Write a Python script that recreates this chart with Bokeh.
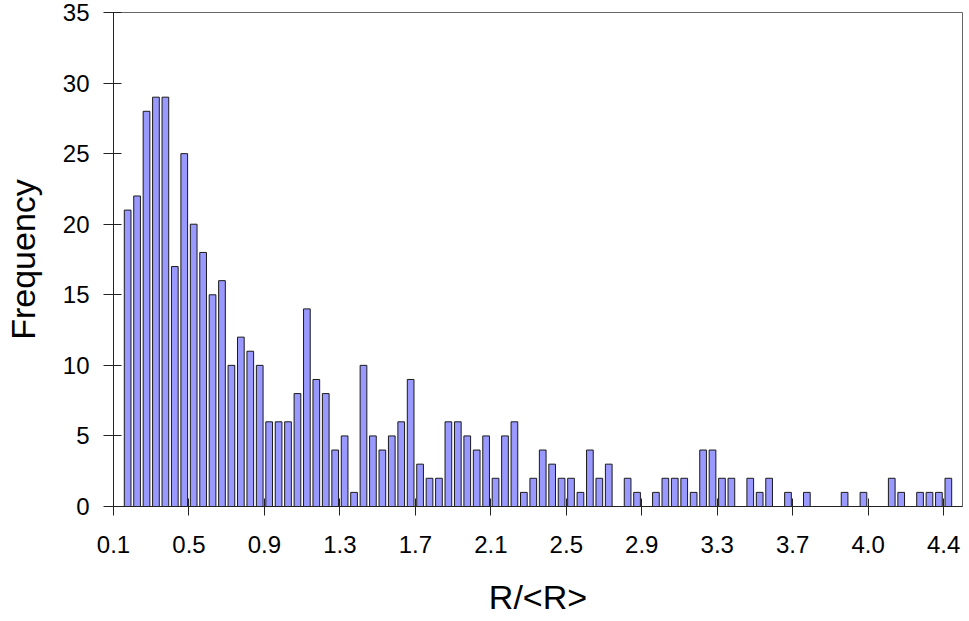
from bokeh.plotting import figure
from bokeh.models import Range1d, FixedTicker, ColumnDataSource
from bokeh.embed import file_html
from bokeh.resources import INLINE

# Frequency per bin (90 bins; labels shown every 8th bin boundary)
freq = [0,
        21, 22, 28, 29, 29, 17, 25, 20, 18, 15,
        16, 10, 12, 11, 10, 6, 6, 6, 8, 14,
        9, 8, 4, 5, 1, 10, 5, 4, 5, 6,
        9, 3, 2, 2, 6, 6, 5, 4, 5, 2,
        5, 6, 1, 2, 4, 3, 2, 2, 1, 4,
        2, 3, 0, 2, 1, 0, 1, 2, 2, 2,
        1, 4, 4, 2, 2, 0, 2, 1, 2, 0,
        1, 0, 1, 0, 0, 0, 1, 0, 1, 0,
        0, 2, 1, 0, 1, 1, 1, 2, 0]
tick_labels = ["0.1", "0.5", "0.9", "1.3", "1.7", "2.1", "2.5",
               "2.9", "3.3", "3.7", "4.0", "4.4"]
y_ticks = [0, 5, 10, 15, 20, 25, 30, 35]
label_every = 8
x_title = "R/<R>"
y_title = "Frequency"

nbins = len(freq)
idx = [i for i in range(nbins) if freq[i] > 0]
src = ColumnDataSource(data=dict(x=[i + 0.5 for i in idx], top=[freq[i] for i in idx]))

FONT = "Liberation Sans"

p = figure(width=969, height=621, output_backend="svg", toolbar_location=None,
           x_range=Range1d(0, nbins), y_range=Range1d(0, 35),
           min_border_left=113, min_border_right=7, min_border_top=12, min_border_bottom=115)
p.background_fill_color = "white"
p.border_fill_color = "white"
p.outline_line_color = "#666666"
p.outline_line_width = 1
p.xgrid.visible = False
p.ygrid.visible = False

p.vbar(x="x", top="top", width=0.71, bottom=0, source=src,
       fill_color="#9999FF", line_color="#1a1a1a", line_width=1)

tick_pos = [k * label_every for k in range(len(tick_labels))]
p.xaxis.ticker = FixedTicker(ticks=tick_pos)
p.xaxis.major_label_overrides = {t: lab for t, lab in zip(tick_pos, tick_labels)}
p.yaxis.ticker = FixedTicker(ticks=y_ticks)

for ax in (p.xaxis, p.yaxis):
    ax.axis_line_color = "#222222"
    ax.axis_line_width = 1
    ax.major_tick_line_color = "#222222"
    ax.minor_tick_line_color = None
    ax.major_label_text_font = FONT
    ax.major_label_text_font_size = "24px"
    ax.major_label_text_color = "black"
    ax.axis_label_text_font = FONT
    ax.axis_label_text_font_size = "34px"
    ax.axis_label_text_font_style = "normal"
    ax.axis_label_text_color = "black"

p.xaxis.major_tick_in = 8
p.xaxis.major_tick_out = 9
p.xaxis.major_label_standoff = 20
p.xaxis.axis_label = x_title
p.xaxis.axis_label_standoff = 22

p.yaxis.major_tick_in = 8
p.yaxis.major_tick_out = 10
p.yaxis.major_label_standoff = 14
p.yaxis.axis_label = y_title
p.yaxis.axis_label_standoff = 18

open("out.html", "w").write(file_html(p, INLINE))
